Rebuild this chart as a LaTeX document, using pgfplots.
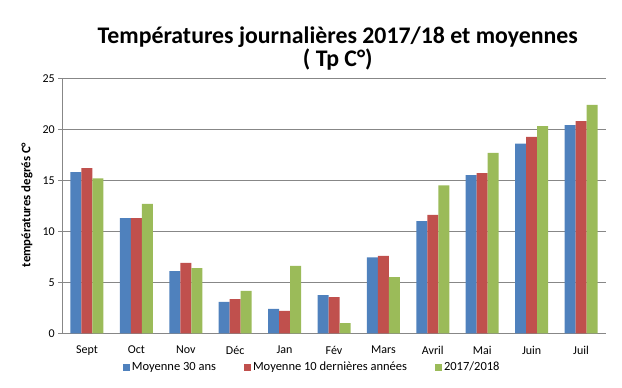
\documentclass[border=0pt]{standalone}
\usepackage{pgfplots}
\pgfplotsset{compat=1.18}
\usepackage{fontspec}
\setmainfont{Carlito}
\definecolor{cblue}{HTML}{4F81BD}
\definecolor{cred}{HTML}{C0504D}
\definecolor{cgreen}{HTML}{9BBB59}
\definecolor{cgrid}{HTML}{878787}
\begin{document}
\begin{tikzpicture}
\useasboundingbox (-62.3pt,-54.7pt) rectangle (559.7pt,333.3pt);
\begin{axis}[
  at={(0,0)}, anchor=south west,
  scale only axis, width=543.4pt, height=255pt,
  ybar=0pt, bar width=11pt,
  xmin=-0.5, xmax=10.5, ymin=0, ymax=25,
  ytick={0,5,10,15,20,25},
  xtick={0,...,10},
  xticklabels={Sept,Oct,Nov,Déc,Jan,Fév,Mars,Avril,Mai,Juin,Juil},
  extra x ticks={-0.5,0.5,...,10.5},
  extra x tick labels={},
  extra x tick style={major tick length=4pt, tick style={cgrid}},
  major x tick style={draw=none},
  axis x line*=bottom, axis y line*=left,
  axis line style={cgrid, -},
  y tick style={cgrid}, tick align=outside, major tick length=4pt,
  ymajorgrids, grid style={cgrid, line width=0.6pt},
  tick label style={font=\fontsize{12}{13}\selectfont},
  xticklabel style={yshift=-5pt},
  /pgf/number format/assume math mode=true,
  ylabel={températures degrés C°},
  ylabel style={at={(axis description cs:-0.065,0.503)}, anchor=center, font=\bfseries\fontsize{12.8}{14}\selectfont},
  title={Températures journalières 2017/18 et moyennes\\( Tp C°)},
  title style={at={(axis description cs:0.507,1)}, anchor=base, yshift=6pt, align=center, font=\bfseries\fontsize{23.8}{23}\selectfont},
  legend style={at={(axis description cs:0.46,-0.133)}, anchor=center, draw=none, fill=none, legend columns=3, font=\fontsize{12.5}{14}\selectfont,
    /tikz/every even column/.append style={column sep=26pt}},
  legend image code/.code={\fill[#1] (0pt,-3.5pt) rectangle (7pt,3.5pt);},
  enlarge x limits=false,
]
\addplot[fill=cblue, draw=none] coordinates {(0,15.8) (1,11.3) (2,6.1) (3,3.07) (4,2.4) (5,3.75) (6,7.45) (7,11.0) (8,15.5) (9,18.6) (10,20.4)};
\addplot[fill=cred, draw=none] coordinates {(0,16.2) (1,11.3) (2,6.9) (3,3.36) (4,2.2) (5,3.55) (6,7.6) (7,11.6) (8,15.7) (9,19.25) (10,20.8)};
\addplot[fill=cgreen, draw=none] coordinates {(0,15.2) (1,12.7) (2,6.4) (3,4.15) (4,6.6) (5,1.0) (6,5.5) (7,14.5) (8,17.7) (9,20.3) (10,22.4)};
\legend{Moyenne 30 ans, Moyenne 10 dernières années, 2017/2018}
\end{axis}
\end{tikzpicture}
\end{document}
